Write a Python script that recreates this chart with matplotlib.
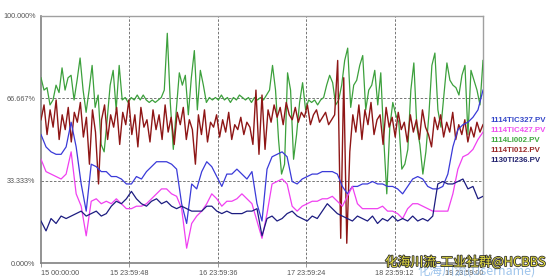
import numpy as np
import matplotlib
matplotlib.use("Agg")
import matplotlib.pyplot as plt
import matplotlib.patheffects as pe

plt.rcParams['font.family'] = ['Liberation Sans', 'Noto Sans CJK SC', 'DejaVu Sans']

# ---------------- data (days since 15 00:00:00, values in %) ----------------
series_names = ["1114TIC327.PV", "1114TIC427.PV", "1114LI002.PV", "1114TI012.PV", "1130TI236.PV"]
x_tick_labels = ["15 00:00:00", "15 23:59:48", "16 23:59:36", "17 23:59:24", "18 23:59:12", "19 23:59:00"]
y_tick_labels = ["0.000%", "33.333%", "66.667%", "100.000%"]
y_ticks = [0, 33.333, 66.667, 100]

tic327 = [52, 47, 45, 44, 44, 47, 57, 47, 32, 21, 40, 39, 37, 37, 35, 35, 34, 32, 32, 35,
          34, 37, 39, 41, 41, 41, 40, 38, 24, 16, 32, 30, 37, 41, 39, 35, 31, 36, 36, 38,
          36, 34, 37, 24, 17, 38, 43, 44, 45, 43, 33, 32, 34, 35, 36, 36, 37, 37, 37, 36,
          31, 28, 31, 31, 32, 32, 33, 32, 32, 31, 31, 30, 28, 31, 34, 35, 34, 31, 30, 30,
          31, 36, 47, 54, 56, 57, 59, 62, 70]

tic427 = [42, 37, 36, 35, 34, 36, 45, 28, 23, 11, 25, 26, 24, 25, 24, 26, 24, 22, 22, 23,
          23, 24, 26, 28, 30, 30, 28, 27, 22, 6, 16, 19, 21, 24, 28, 26, 23, 25, 25, 26,
          28, 26, 24, 17, 10, 20, 32, 33, 34, 32, 23, 21, 23, 24, 25, 25, 26, 26, 27, 25,
          23, 27, 31, 24, 22, 22, 22, 22, 23, 21, 21, 20, 18, 22, 24, 24, 23, 22, 21, 21,
          21, 21, 28, 38, 43, 44, 46, 50, 53]

li002 = [75, 70, 71, 64, 66, 72, 69, 79, 70, 75, 76, 66, 74, 83, 70, 61, 70, 80, 63, 68,
         48, 45, 58, 72, 78, 62, 80, 66, 67, 65, 67, 66, 68, 66, 68, 66, 65, 66, 65, 66,
         67, 70, 93, 65, 46, 62, 77, 72, 76, 60, 75, 86, 62, 78, 72, 65, 67, 66,
         67, 66, 68, 66, 67, 65, 67, 66, 68, 67, 66, 67, 65, 67, 66, 67, 66, 68,
         70, 80, 70, 50, 36, 40, 77, 70, 42, 52, 65, 73, 62, 66, 65, 66, 64, 66, 67, 72,
         76, 73, 64, 66, 72, 82, 87, 63, 72, 74, 80, 84, 62, 70, 72, 78, 64, 77, 50, 28,
         55, 65, 60, 57, 38, 40, 46, 70, 81, 55, 48, 36, 45, 60, 80, 85, 62, 55, 68, 81,
         74, 72, 71, 68, 76, 80, 52, 78, 74, 70, 64, 82]

ti012 = [58, 64, 52, 62, 55, 66, 50, 60, 54, 63, 49, 61, 57, 65, 51, 59, 40, 62, 53, 32,
         58, 64, 50, 60, 55, 63, 48, 61, 56, 66,
         52, 60, 47, 63, 55, 58, 49, 62, 54, 60, 50, 64, 53, 59, 48, 61, 56, 63, 50, 58,
         54, 40, 60, 52, 62, 49, 57, 55, 60, 51, 58, 53, 61, 50, 56, 54, 59, 52, 57, 55,
         48, 70, 44, 68, 46,
         62, 57, 64, 59, 63, 56, 65, 60, 58, 63, 57, 61, 59, 64, 56, 60, 62, 57, 59, 61,
         56, 58, 60,
         82, 10, 75, 8, 45,
         60, 53, 64, 50, 62, 56, 65, 52, 58, 60, 48, 63, 55, 59, 51, 61, 54, 57, 49, 60,
         53, 58, 50, 62, 55, 52, 47, 59, 54, 60, 51, 57, 53, 61, 50, 56, 52, 58, 49, 55,
         51, 57, 53, 56]

ti236 = [17, 13, 18, 16, 19, 18, 19, 20, 21, 19, 20, 21, 19, 20, 23, 25, 24, 26, 29, 26,
         24, 23, 25, 26, 24, 25, 23, 22, 23, 22, 21, 21, 21, 23, 23, 21, 20, 21, 20, 20,
         20, 21, 21, 22, 11, 18, 19, 17, 18, 20, 21, 19, 18, 17, 19, 18, 21, 24, 22, 20,
         19, 18, 17, 19, 18, 17, 19, 16, 18, 17, 19, 17, 18, 17, 19, 17, 18, 17, 19, 32,
         33, 32, 32, 33, 34, 30, 31, 26, 27]

series_values = [tic327, tic427, li002, ti012, ti236]
line_colors = ["#3a3ad8", "#f040f0", "#3ca03c", "#8e1616", "#1c1c80"]
legend_colors = ["#3346c8", "#f050f0", "#40a840", "#9a2a2a", "#22226e"]
span_days = 5.0

# ---------------- figure ----------------
W, H = 554, 279
fig = plt.figure(figsize=(W / 100, H / 100), dpi=100)
fig.patch.set_facecolor("white")
ax = fig.add_axes([41 / W, (279 - 263) / H, (483 - 41) / W, (263 - 16) / H])

draw_order = [2, 3, 0, 1, 4]
widths = {3: 1.0}
for k in draw_order:
    vals = series_values[k]
    t = np.linspace(0, span_days, len(vals))
    ax.plot(t, vals, color=line_colors[k], lw=widths.get(k, 0.9), zorder=3)

ax.set_xlim(0, span_days)
ax.set_ylim(0, 100)

xt = np.arange(len(x_tick_labels)) * (span_days / 5.0)
ax.set_xticks(xt)
ax.set_xticklabels(x_tick_labels)
ax.set_yticks(y_ticks)
ax.set_yticklabels(y_tick_labels)
ax.tick_params(axis='x', length=3, width=0.6, color="#888888", labelsize=5.2,
               labelcolor="#555555", pad=2)
ax.tick_params(axis='y', length=0, labelsize=5.2, labelcolor="#555555", pad=4)
xlabels = ax.get_xticklabels()
for i, lbl in enumerate(xlabels):
    if i == 0:
        lbl.set_horizontalalignment('left')
    elif i == len(xlabels) - 1:
        lbl.set_horizontalalignment('right')
    else:
        lbl.set_horizontalalignment('center')

for v in xt[1:-1]:
    ax.axvline(v, color="#606060", lw=0.6, ls=(0, (3, 2)), zorder=1)
for v in y_ticks[1:3]:
    ax.axhline(v, color="#606060", lw=0.6, ls=(0, (3, 2)), zorder=1)

for s in ["left", "bottom"]:
    ax.spines[s].set_color("#808080")
    ax.spines[s].set_linewidth(1.2)
for s in ["top", "right"]:
    ax.spines[s].set_color("#a0a0a0")
    ax.spines[s].set_linewidth(1.0)

# legend as coloured text
for i, (name, c) in enumerate(zip(series_names, legend_colors)):
    fig.text(490 / W, 1 - (121 + 10 * i) / H, name, color=c, fontsize=5.7,
             fontweight='bold', va='center', ha='left')

# watermarks
fig.text(417 / W, 1 - 271 / H, "化海川流(Username)", color="#8ab8e8", fontsize=9,
         va='center', ha='left', alpha=0.8, family=['Noto Sans CJK SC', 'DejaVu Sans'])
fig.text(385 / W, 1 - 262 / H, "化海川流-工业社群@HCBBS", color="#e8e040", fontsize=9.2,
         va='center', ha='left', family=['Noto Sans CJK SC', 'DejaVu Sans'],
         path_effects=[pe.withStroke(linewidth=1.2, foreground="#303030")])

fig.savefig("out.png", dpi=100)
